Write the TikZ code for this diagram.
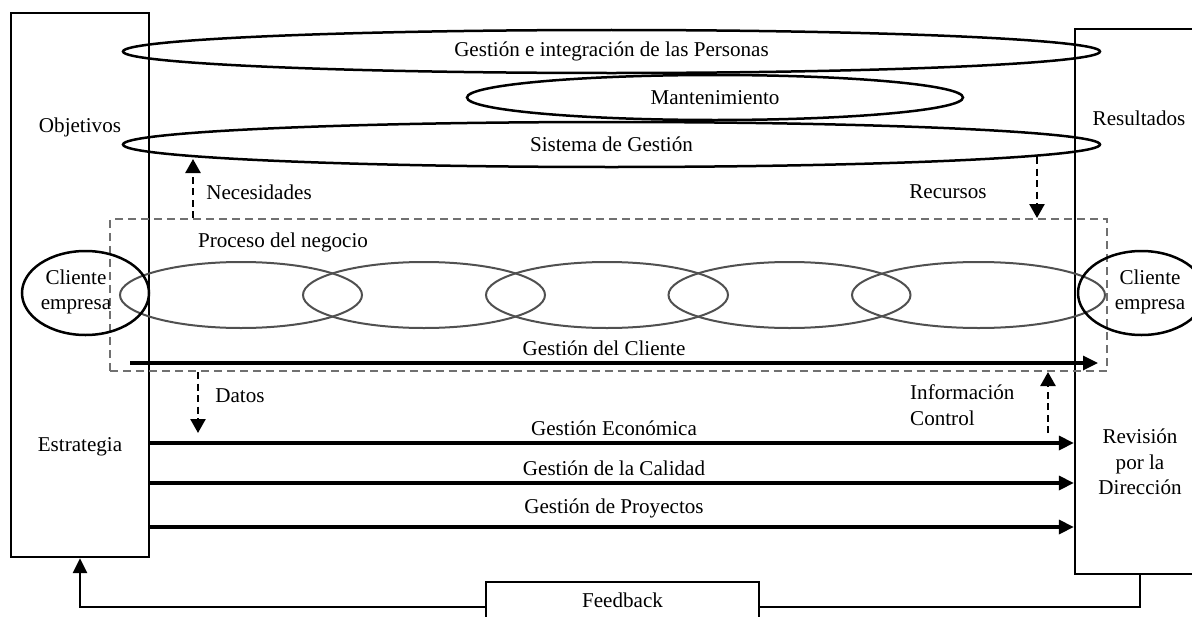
\documentclass[tikz,border=0pt]{standalone}
\usepackage{fontspec}
\setmainfont{Liberation Serif}
\usetikzlibrary{shapes.geometric,arrows.meta}
\definecolor{grisproc}{HTML}{505050}
\definecolor{grisdash}{HTML}{707070}

\begin{document}
\begin{tikzpicture}[x=0.2mm, y=-0.2mm,
    every node/.style={font=\fontsize{12}{14.5}\selectfont},
    caja/.style={draw, line width=0.45mm, inner sep=0},
    elipse/.style={draw, ellipse, line width=0.5mm, inner sep=0},
    eslabon/.style={draw=grisproc, ellipse, line width=0.4mm, inner sep=0, minimum height=13.2mm},
    flecha/.style={line width=0.65mm, -{Triangle[length=3mm, width=2.8mm]}},
    flechap/.style={line width=0.5mm, dash pattern=on 1.4mm off 0.9mm, -{Triangle[length=2.8mm, width=3mm]}}]
    \useasboundingbox (0,0) rectangle (1192,617);

    % Bloques laterales
    \node[caja, minimum width=27.6mm, minimum height=108.8mm] (izq) at (80,285) {};
    \node[caja, minimum width=26mm, minimum height=109mm] (der) at (1140,301.5) {};
    \node (objetivos) at (80,127) {Objetivos};
    \node (estrategia) at (80,447) {Estrategia};
    \node (resultados) at (1139,118) {Resultados};
    \node[align=center] (revision) at (1140,462) {Revisión\\por la\\Dirección};

    % Sistema de gestion
    \node[elipse, minimum width=195.4mm, minimum height=8.6mm] (personas) at (611.5,51.5) {Gestión e integración de las Personas};
    \node[elipse, minimum width=99.2mm, minimum height=9mm] (mant) at (715,97.5) {Mantenimiento};
    \node[elipse, minimum width=195.4mm, minimum height=9mm] (sistema) at (611.5,144.5) {Sistema de Gestión};

    % Proceso del negocio
    \node[draw=grisdash, line width=0.4mm, dash pattern=on 1.6mm off 1mm, inner sep=0,
        minimum width=199.2mm, minimum height=30.4mm] (proceso) at (608.5,295) {};
    \node (procesotxt) at (283,242) {Proceso del negocio};
    \foreach \i/\cx/\w in {1/241/48.4, 2/424/48.4, 3/607/48.4, 4/789.5/48.4, 5/978.5/50.6}
        \node[eslabon, minimum width=\w mm] (e\i) at (\cx,295) {};

    % Clientes
    \node[elipse, minimum width=25.4mm, minimum height=16.8mm] (cliizq) at (85.5,293) {};
    \node[align=center] (clitxtizq) at (76,292) {Cliente\\empresa};
    \node[elipse, minimum width=25.4mm, minimum height=16.8mm] (clider) at (1141.5,293) {};
    \node[align=center] (clitxtder) at (1150,292) {Cliente\\empresa};

    % Flechas discontinuas
    \coordinate (nec) at (193,159);
    \draw[flechap] (proceso.north -| nec) -- (nec);
    \node (necesidades) at (259,192) {Necesidades};
    \coordinate (rec) at (1037,157);
    \draw[flechap] (rec) -- (rec |- proceso.north);
    \node (recursos) at (948,192) {Recursos};
    \coordinate (dat) at (198,433);
    \draw[flechap] (proceso.south -| dat) -- (dat);
    \node (datos) at (240,396) {Datos};
    \coordinate (inf) at (1048,433);
    \draw[flechap] (inf) -- (inf |- proceso.south);
    \node[align=left, anchor=west] (informacion) at (904,405) {Información\\Control};

    % Gestiones
    \coordinate (cliA) at (130,363);
    \coordinate (cliB) at (1098,363);
    \draw[flecha] (cliA) -- (cliB);
    \node (gcliente) at (604,348) {Gestión del Cliente};
    \foreach \n/\y/\ty/\t in {eco/443/428/Gestión Económica, cal/483/468/Gestión de la Calidad, pro/527/508/Gestión de Proyectos} {
        \coordinate (y\n) at (0,\y);
        \draw[flecha] (izq.east |- y\n) -- (der.west |- y\n);
        \node (\n) at (614,\ty) {\t};
    }

    % Feedback
    \node[caja, minimum width=54.6mm, minimum height=12mm] (fb) at (622.5,612) {};
    \node (fbtxt) at (622.5,600) {Feedback};
    \coordinate (fby) at (0,607);
    \draw[flecha, line width=0.5mm] (fb.west |- fby) -| (izq.south);
    \draw[line width=0.5mm] (fb.east |- fby) -| (der.south);
\end{tikzpicture}
\end{document}
